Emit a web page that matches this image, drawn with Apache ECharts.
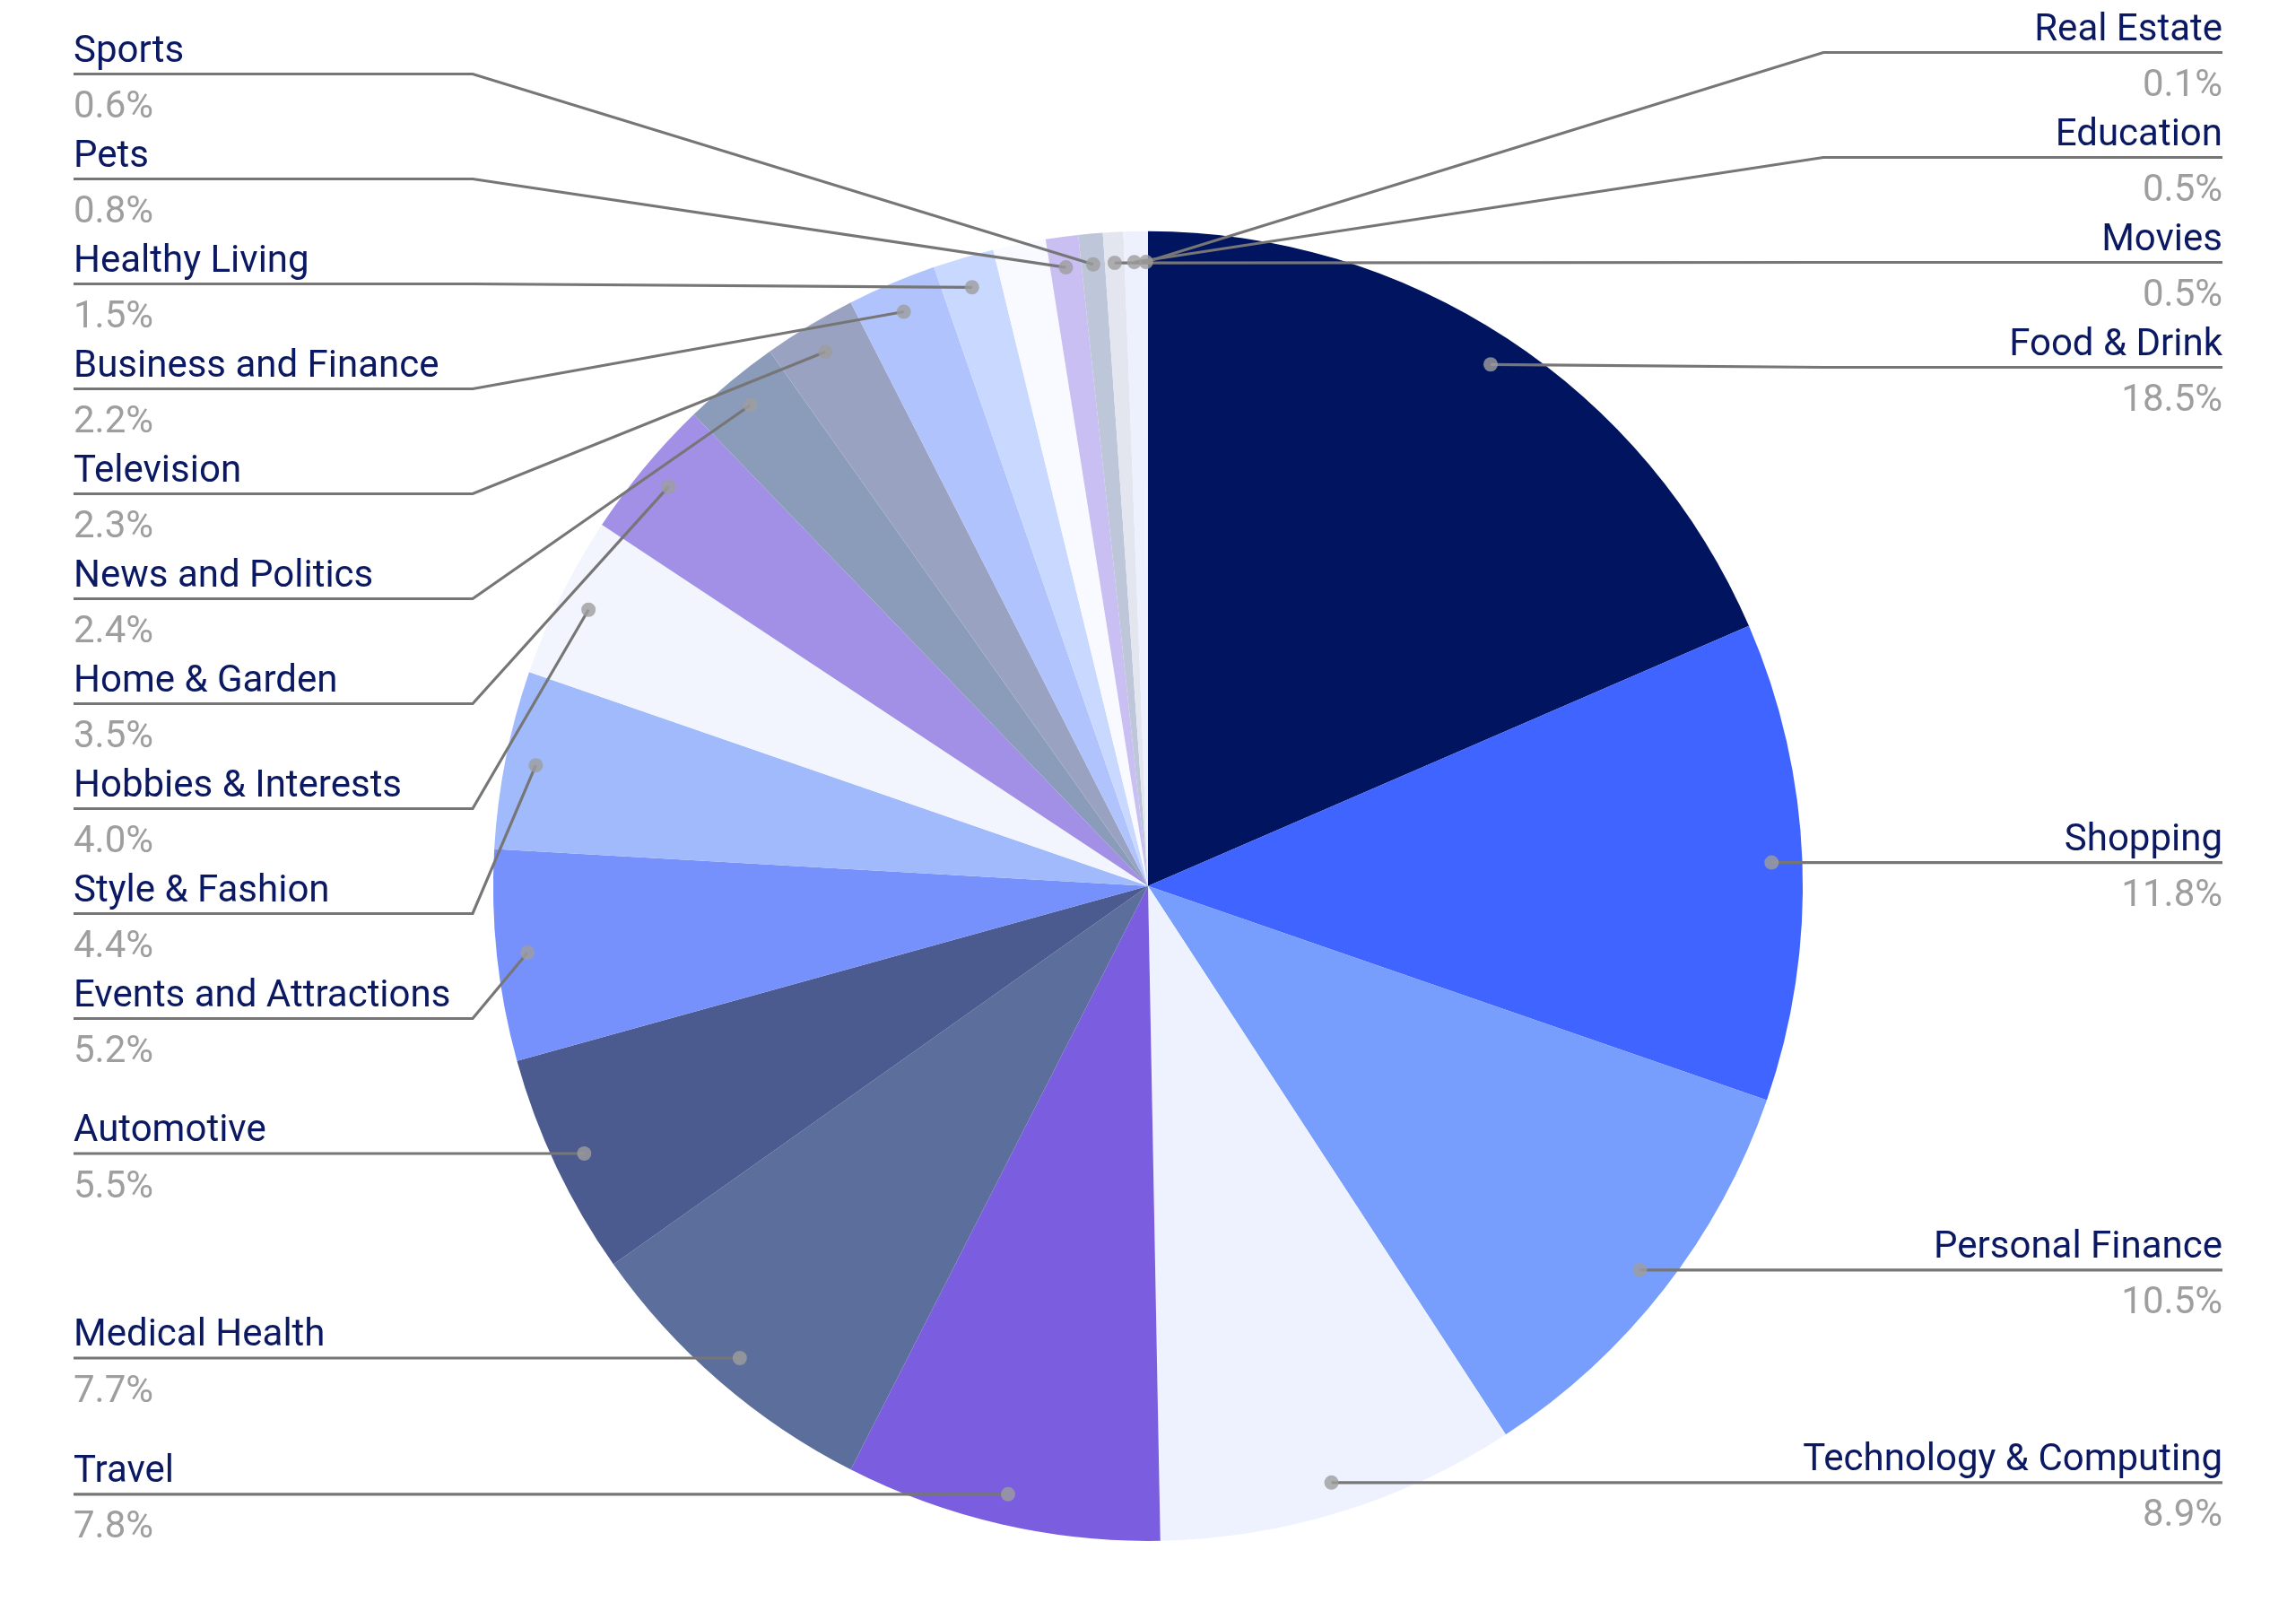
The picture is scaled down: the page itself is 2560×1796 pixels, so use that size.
<!DOCTYPE html>
<html lang="en">
  <head>
    <meta charset="UTF-8" />
    <meta name="viewport" content="width=device-width, initial-scale=1.0" />
    <title>Categories</title>
    <script src="https://cdn.jsdelivr.net/npm/echarts@6.0.0/dist/echarts.min.js"></script>
    <style>
      html, body { margin: 0; padding: 0; background: #fff; }
    </style>
  </head>
  <body>
    <div id="main" style="width: 2560px; height: 1796px"></div>
    <script type="text/javascript">
      // slices clockwise from 12 o'clock, "" is the unlabeled remainder slice
      const categories = [
        "Food & Drink", "Shopping", "Personal Finance", "Technology & Computing",
        "Travel", "Medical Health", "Automotive", "Events and Attractions",
        "Style & Fashion", "Hobbies & Interests", "Home & Garden", "News and Politics",
        "Television", "Business and Finance", "Healthy Living", "",
        "Pets", "Sports", "Movies", "Education", "Real Estate",
      ];
      const shares = [
        18.5, 11.8, 10.5, 8.9, 7.8, 7.7, 5.5, 5.2, 4.4, 4.0, 3.5, 2.4,
        2.3, 2.2, 1.5, 1.3, 0.8, 0.6, 0.5, 0.5, 0.1,
      ];
      const sliceColors = [
        "#00145f", "#4064ff", "#779dfd", "#eef2fe", "#7b5ee0", "#5c6e9b",
        "#4b5a8f", "#7791fc", "#a0bafb", "#f2f5fd", "#a28fe6", "#8b9bba",
        "#9aa2c1", "#b1c3fd", "#c9d8fe", "#f8faff", "#c9bff2", "#bdc7d9",
        "#e3e6ef", "#edf0fd", "#eef1fd",
      ];

      const center = ["50%", "55%"];
      const radius = "81.3%";
      const dotR = 0.953; // connector dots sit just inside the rim
      const edge = 82; // text distance from the page edge
      const elbow = 445; // flat part of each connector
      const topRoom = { left: 24, right: 0 };
      const labelH = 117; // vertical step between stacked labels

      // name sits above the connector, percentage below it
      const rich = {
        name: { fontFamily: "Roboto", fontSize: 42, color: "#0b1862", lineHeight: 76 },
        pct: { fontFamily: "Roboto", fontSize: 42, color: "#9e9e9e", lineHeight: 49 },
      };

      let myChart = echarts.init(document.getElementById("main"));
      const W = myChart.getWidth();
      const H = myChart.getHeight();
      const cx = (W * parseFloat(center[0])) / 100;
      const cy = (H * parseFloat(center[1])) / 100;
      const R = ((parseFloat(radius) / 100) * Math.min(W, H)) / 2;

      const total = shares.reduce((a, b) => a + b, 0);
      let acc = 0;
      const mids = shares.map((v) => {
        const m = acc + v / 2;
        acc += v;
        return m;
      });

      // natural height of each label and which side it goes
      const anchors = mids.map((m) => {
        const deg = (m / total) * 360;
        const a = (deg * Math.PI) / 180;
        return {
          y: cy - R * dotR * Math.cos(a),
          right: deg < 180 || deg > 356,
        };
      });

      // spread labels: push up from the bottom, then down from the top
      const labelY = [];
      ["left", "right"].forEach((side) => {
        const idx = categories
          .map((c, i) => i)
          .filter((i) => categories[i] && anchors[i].right === (side === "right"));
        idx.sort((a, b) => anchors[a].y - anchors[b].y);
        const ys = idx.map((i) => anchors[i].y);
        for (let k = ys.length - 2; k >= 0; k--) ys[k] = Math.min(ys[k], ys[k + 1] - labelH);
        ys[0] = Math.max(ys[0], topRoom[side] + labelH / 2);
        for (let k = 1; k < ys.length; k++) ys[k] = Math.max(ys[k], ys[k - 1] + labelH);
        idx.forEach((i, k) => (labelY[i] = ys[k]));
      });

      const labelled = categories.map((c, i) => i).filter((i) => categories[i]);
      const dotData = labelled.map((i) => [dotR, mids[i], i]);

      let options = {
        animation: false,
        polar: { center: center, radius: radius },
        angleAxis: {
          type: "value", min: 0, max: total, startAngle: 90, clockwise: true, show: false,
          axisLine: { show: false }, axisTick: { show: false }, axisLabel: { show: false }, splitLine: { show: false },
        },
        radiusAxis: {
          type: "value", min: 0, max: 1, show: false,
          axisLine: { show: false }, axisTick: { show: false }, axisLabel: { show: false }, splitLine: { show: false },
        },
        series: [
          {
            type: "pie",
            center: center,
            radius: radius,
            startAngle: 90,
            clockwise: true,
            silent: true,
            avoidLabelOverlap: false,
            data: categories.map((name, i) => ({
              name: name,
              value: shares[i],
              itemStyle: { color: sliceColors[i] },
              label: { show: !!name },
            })),
            label: {
              alignTo: "edge",
              edgeDistance: edge,
              formatter: (p) => "{name|" + p.name + "}\n{pct|" + p.value.toFixed(1) + "%}",
              rich: rich,
            },
            labelLine: { show: false },
            labelLayout: function (params) {
              const i = params.dataIndex;
              if (!categories[i]) return {};
              const right = anchors[i].right;
              return {
                x: right ? W - edge : edge,
                y: labelY[i],
                align: right ? "right" : "left",
                verticalAlign: "middle",
              };
            },
          },
          {
            // connectors: from the dot to the elbow, then flat under the label
            type: "custom",
            coordinateSystem: "polar",
            silent: true,
            z: 4,
            data: dotData,
            renderItem: function (params, api) {
              const i = api.value(2);
              const p = api.coord([api.value(0), api.value(1)]);
              const right = anchors[i].right;
              const y = labelY[i];
              const x = right ? W - edge : edge;
              const bend = right ? x - elbow : x + elbow;
              return {
                type: "polyline",
                shape: { points: [p, [bend, y], [x, y]] },
                style: { stroke: "#767676", lineWidth: 3.2, fill: null },
              };
            },
          },
          {
            type: "scatter",
            coordinateSystem: "polar",
            silent: true,
            z: 5,
            symbolSize: 16,
            itemStyle: { color: "#9e9e9e" },
            data: dotData,
          },
        ],
      };
      myChart.setOption(options);
    </script>
  </body>
</html>
